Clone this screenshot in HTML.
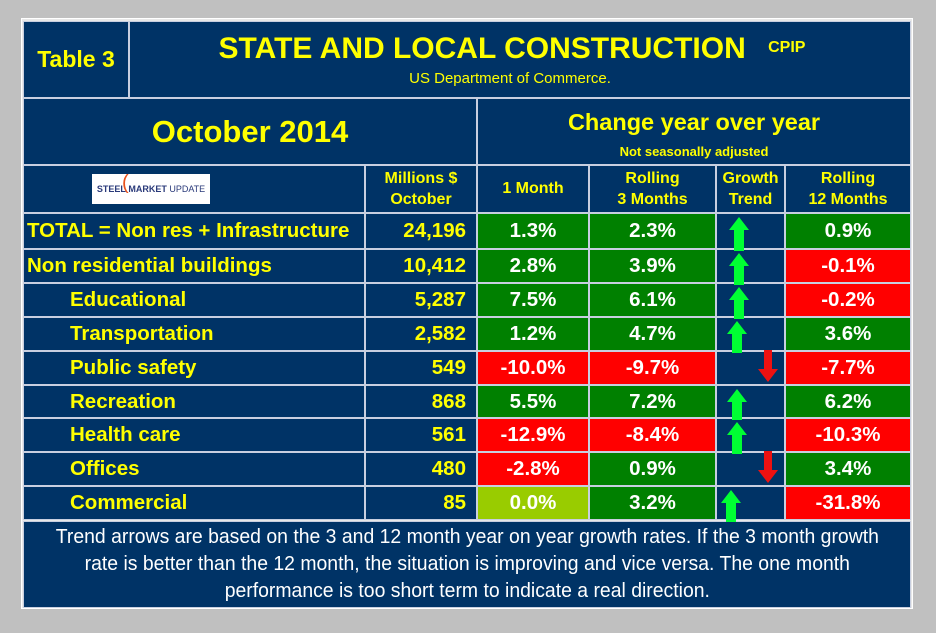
<!DOCTYPE html>
<html><head><meta charset="utf-8">
<style>
body{margin:0;background:#c0c0c0;width:936px;height:633px;overflow:hidden;font-family:"Liberation Sans",Arial,sans-serif;}
#wrap{position:absolute;left:0;top:0;width:936px;height:633px;}
.c{position:absolute;box-sizing:border-box;background:#003366;border:1px solid #c8cfe0;display:flex;align-items:center;justify-content:center;font-weight:bold;color:#ffff00;white-space:nowrap;}
.frame{position:absolute;left:21px;top:18px;width:892px;height:591px;background:#e8e8e8;border:1px solid #fff;box-sizing:border-box;}
</style></head><body>
<div id="wrap">
<div class="frame"></div>
<div class="c" style="left:23px;top:21px;width:106px;height:77px;font-size:23px;">Table 3</div>
<div class="c" style="left:129px;top:21px;width:782px;height:77px;flex-direction:column;">
 <div style="font-size:30px;position:relative;left:-8px;">STATE AND LOCAL CONSTRUCTION <span style="font-size:16px;vertical-align:6px;margin-left:14px;">CPIP</span></div>
 <div style="font-size:15px;font-weight:normal;margin-top:4px;position:relative;left:-10px;">US Department of Commerce.</div>
</div>
<div class="c" style="left:23px;top:98px;width:454px;height:67px;font-size:31px;">October 2014</div>
<div class="c" style="left:477px;top:98px;width:434px;height:67px;flex-direction:column;">
 <div style="font-size:23.5px;margin-top:4px;">Change year over year</div>
 <div style="font-size:13px;margin-top:8px;">Not seasonally adjusted</div>
</div>
<div class="c" style="left:23px;top:165px;width:342px;height:48px;">
 <div style="background:#fff;width:118px;height:30px;display:flex;align-items:center;justify-content:center;font-size:9px;color:#2a3a7a;position:relative;left:-43px;"><span style="color:#e8501a;font-size:20px;position:absolute;left:30px;top:-2px;font-weight:normal;">(</span><b>STEEL</b>&nbsp;MARKET&nbsp;<span style="font-weight:normal">UPDATE</span></div>
</div>
<div class="c" style="left:365px;top:165px;width:112px;height:48px;font-size:16px;text-align:center;line-height:21px;">Millions $<br>October</div>
<div class="c" style="left:477px;top:165px;width:112px;height:48px;font-size:16px;">1 Month</div>
<div class="c" style="left:589px;top:165px;width:127px;height:48px;font-size:16px;text-align:center;line-height:21px;">Rolling<br>3 Months</div>
<div class="c" style="left:716px;top:165px;width:69px;height:48px;font-size:16px;text-align:center;line-height:21px;">Growth<br>Trend</div>
<div class="c" style="left:785px;top:165px;width:126px;height:48px;font-size:16px;text-align:center;line-height:21px;">Rolling<br>12 Months</div>
<div id="rows"></div>
<div class="c" style="left:23px;top:521px;width:888px;height:87px;font-weight:normal;color:#fff;font-size:20px;text-align:center;line-height:27px;"><div style="transform:scaleX(0.97);white-space:nowrap;">Trend arrows are based on the 3 and 12 month year on year growth rates. If the 3 month growth<br>rate is better than the 12 month, the situation is improving and vice versa. The one month<br>performance is too short term to indicate a real direction.</div></div>
<svg id="arrows" width="936" height="633" style="position:absolute;left:0;top:0;pointer-events:none;"></svg>
</div>
<script>
const categories=["TOTAL = Non res + Infrastructure","Non residential buildings","Educational","Transportation","Public safety","Recreation","Health care","Offices","Commercial"];
const millions=[24196,10412,5287,2582,549,868,561,480,85];
const oneMonth=[1.3,2.8,7.5,1.2,-10.0,5.5,-12.9,-2.8,0.0];
const threeMonth=[2.3,3.9,6.1,4.7,-9.7,7.2,-8.4,0.9,3.2];
const twelveMonth=[0.9,-0.1,-0.2,3.6,-7.7,6.2,-10.3,3.4,-31.8];
const trend=["up","up","up","up","down","up","up","down","up"];
const rowTops=[213,249,283,317,351,385,418,452,486,520];
const indent=[3,3,46,46,46,46,46,46,46];
const upX=[739,739,739,737,0,737,737,0,731];
function col(v){return v>0?"#008000":(v<0?"#ff0000":"#99cc00");}
function fmtPct(v){return v.toFixed(1)+"%";}
const rows=document.getElementById('rows');
function cell(x,y,w,h,txt,bg,color,align,pad,name){
  const d=document.createElement('div');
  d.className='c';
  d.style.cssText=`left:${x}px;top:${y}px;width:${w}px;height:${h}px;background:${bg};color:${color};font-size:20.5px;justify-content:${align};padding:0 ${pad}px;`;
  d.textContent=txt;
  
  
  rows.appendChild(d);
}
const svg=document.getElementById('arrows');
categories.forEach((c,i)=>{
  const y=rowTops[i],h=rowTops[i+1]-rowTops[i];
  cell(23,y,342,h,c,"#003366","#ffff00","flex-start",indent[i],'row-label');
  cell(365,y,112,h,millions[i].toLocaleString('en-US'),"#003366","#ffff00","flex-end",10,'millions-value');
  cell(477,y,112,h,fmtPct(oneMonth[i]),col(oneMonth[i]),"#fff","center",0,'one-month-value');
  cell(589,y,127,h,fmtPct(threeMonth[i]),col(threeMonth[i]),"#fff","center",0,'three-month-value');
  cell(716,y,69,h,"","#003366","#fff","center",0,'trend-cell');
  cell(785,y,126,h,fmtPct(twelveMonth[i]),col(twelveMonth[i]),"#fff","center",0,'twelve-month-value');
  const p=document.createElementNS('http://www.w3.org/2000/svg','polygon');
  let pts;
  if(trend[i]==="up"){
    const cx=upX[i],t=y+4,b=y+h+2;
    pts=`${cx-10},${t+13} ${cx},${t} ${cx+10},${t+13} ${cx+5},${t+13} ${cx+5},${b} ${cx-5},${b} ${cx-5},${t+13}`;
    p.setAttribute('fill','#00ff33');
  } else {
    const cx=768,t=y-1,b=y+h-3;
    pts=`${cx-4},${t} ${cx+4},${t} ${cx+4},${b-13} ${cx+10},${b-13} ${cx},${b} ${cx-10},${b-13} ${cx-4},${b-13}`;
    p.setAttribute('fill','#ee1111');
  }
  p.setAttribute('points',pts);
  
  
  svg.appendChild(p);
});
</script>
</body></html>
